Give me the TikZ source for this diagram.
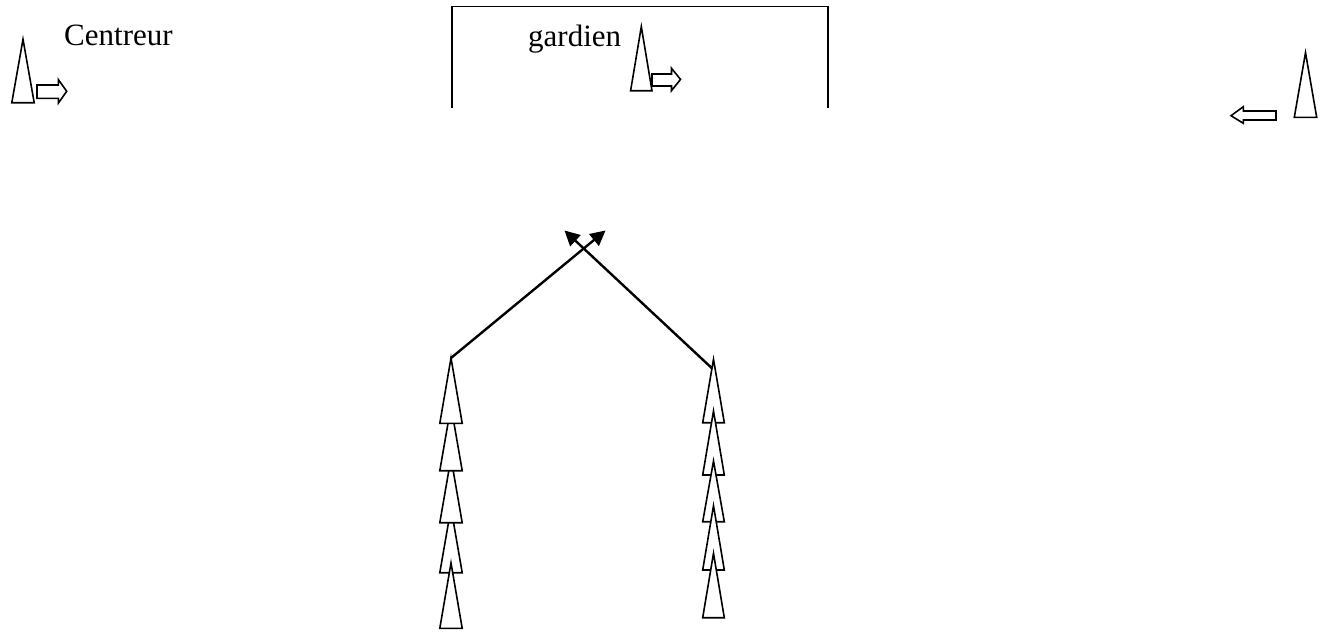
\documentclass[tikz,border=0pt]{standalone}
\usepackage{fontspec}
\setmainfont{Liberation Serif}
\usetikzlibrary{arrows.meta}
\newcommand{\drawcone}[4]{% centre x, apex y, base y, half width
  \draw[conestyle] (#1,#2) -- (#1+#4,#3) -- (#1-#4,#3) -- cycle;}
\tikzset{
  conestyle/.style={draw=black, fill=white, line width=1.6pt, line join=miter},
  blockarrow/.style={draw=black, fill=white, line width=1.6pt, line join=miter},
  runline/.style={draw=black, line width=2.4pt, -{Triangle[length=15pt,width=15pt]}},
  label/.style={inner sep=0pt, font=\fontsize{31}{37}\selectfont},
  goal/.style={draw=black, line width=1.6pt}
}
\begin{document}
\begin{tikzpicture}[x=1pt,y=-1pt]
\useasboundingbox (0,0) rectangle (1327,632);
% goal
\draw[goal] (452,108) -- (452,6.5) -- (828,6.5) -- (828,108);
% texts
\node[label, anchor=base west] (centreur) at (64,45.5) {Centreur};
\node[label, anchor=base west] (gardien) at (528,46.5) {gardien};
% top cones
\drawcone{23}{39.3}{102.7}{11.2}
\drawcone{641.3}{26.7}{90.7}{10.7}
\drawcone{1305.5}{52.7}{117.3}{11.2}
% block arrows
\draw[blockarrow] (37,85) -- (58.3,85) -- (58.3,79.5) -- (66.7,91.3) -- (58.3,103.2) -- (58.3,98.3) -- (37,98.3) -- cycle;
\draw[blockarrow] (652,74) -- (671.5,74) -- (671.5,68.3) -- (680.5,79.4) -- (671.5,90.7) -- (671.5,86) -- (652,86) -- cycle;
\draw[blockarrow] (1276,111) -- (1243.3,111) -- (1243.3,106.7) -- (1231,115.7) -- (1243.3,123.3) -- (1243.3,120) -- (1276,120) -- cycle;
% left stack (cone 4,3,2,1 then 5)
\drawcone{451}{508}{572.7}{11.2}
\drawcone{451}{458}{522.7}{11.2}
\drawcone{451}{406}{470.7}{11.2}
\drawcone{451}{358}{423.3}{11.2}
\drawcone{451}{563}{628.3}{11.2}
% right stack
\drawcone{713.5}{359.3}{422.7}{10.8}
\drawcone{713.5}{411}{475}{10.8}
\drawcone{713.5}{461}{521.7}{10.8}
\drawcone{713.5}{505.7}{570}{10.8}
\drawcone{713.5}{553.3}{617.7}{10.8}
% connectors
\coordinate (lstart) at (451,358);
\coordinate (rstart) at (711.7,368);
\coordinate (ltip) at (605.5,230.5);
\coordinate (rtip) at (564.5,230.5);
\draw[runline] (lstart) -- (ltip);
\draw[runline] (rstart) -- (rtip);
\end{tikzpicture}
\end{document}
